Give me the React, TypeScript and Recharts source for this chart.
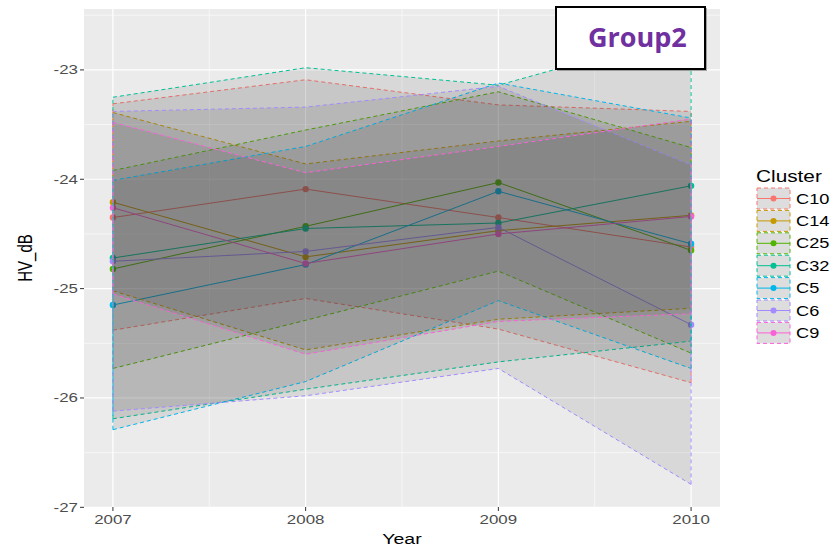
import React from 'react';
import {
  ComposedChart,
  Line,
  Area,
  Scatter,
  XAxis,
  YAxis,
  CartesianGrid,
  ReferenceLine,
  Label,
} from 'recharts';

// ---------- data ----------
const YEARS = [2007, 2008, 2009, 2010];
const CLUSTERS = ['C10', 'C14', 'C25', 'C32', 'C5', 'C6', 'C9'];
const COLORS = ['#F8766D', '#C49A00', '#53B400', '#00C094', '#00B6EB', '#A58AFF', '#FB61D7'];

const C10_MEAN = [-24.35, -24.09, -24.35, -24.62];
const C10_LOW = [-25.38, -25.09, -25.37, -25.86];
const C10_HIGH = [-23.31, -23.09, -23.32, -23.38];

const C14_MEAN = [-24.21, -24.71, -24.47, -24.33];
const C14_LOW = [-25.02, -25.56, -25.28, -25.18];
const C14_HIGH = [-23.39, -23.86, -23.65, -23.47];

const C25_MEAN = [-24.82, -24.43, -24.03, -24.65];
const C25_LOW = [-25.73, -25.29, -24.84, -25.59];
const C25_HIGH = [-23.92, -23.55, -23.2, -23.71];

const C32_MEAN = [-24.72, -24.45, -24.4, -24.06];
const C32_LOW = [-26.19, -25.92, -25.67, -25.48];
const C32_HIGH = [-23.25, -22.98, -23.14, -22.65];

const C5_MEAN = [-25.15, -24.78, -24.11, -24.59];
const C5_LOW = [-26.29, -25.85, -25.11, -25.73];
const C5_HIGH = [-24.01, -23.7, -23.12, -23.44];

const C6_MEAN = [-24.75, -24.66, -24.44, -25.33];
const C6_LOW = [-26.12, -25.98, -25.73, -26.79];
const C6_HIGH = [-23.38, -23.34, -23.15, -23.87];

const C9_MEAN = [-24.26, -24.77, -24.5, -24.34];
const C9_LOW = [-25.05, -25.6, -25.3, -25.23];
const C9_HIGH = [-23.48, -23.94, -23.7, -23.45];

const Y_TICKS = [-27, -26, -25, -24, -23];
const Y_MINOR = [-26.5, -25.5, -24.5, -23.5, -22.5];
const X_MINOR = [2007.5, 2008.5, 2009.5];

const TITLE = 'Group2';
const LEGEND_TITLE = 'Cluster';
const X_TITLE = 'Year';
const Y_TITLE = 'HV_dB';

// ---------- assemble ----------
const SERIES: Record<string, { mean: number[]; low: number[]; high: number[] }> = {
  C10: { mean: C10_MEAN, low: C10_LOW, high: C10_HIGH },
  C14: { mean: C14_MEAN, low: C14_LOW, high: C14_HIGH },
  C25: { mean: C25_MEAN, low: C25_LOW, high: C25_HIGH },
  C32: { mean: C32_MEAN, low: C32_LOW, high: C32_HIGH },
  C5: { mean: C5_MEAN, low: C5_LOW, high: C5_HIGH },
  C6: { mean: C6_MEAN, low: C6_LOW, high: C6_HIGH },
  C9: { mean: C9_MEAN, low: C9_LOW, high: C9_HIGH },
};

const rows = YEARS.map((year, i) => {
  const r: any = { year };
  CLUSTERS.forEach((c) => {
    r[c] = SERIES[c].mean[i];
    r[c + '_band'] = [SERIES[c].low[i], SERIES[c].high[i]];
  });
  return r;
});

const allLow = CLUSTERS.flatMap((c) => SERIES[c].low);
const allHigh = CLUSTERS.flatMap((c) => SERIES[c].high);
const yMin = Math.min(...allLow);
const yMax = Math.max(...allHigh);
const yPad = (yMax - yMin) * 0.05;
const Y_DOMAIN = [yMin - yPad, yMax + yPad];
const xPad = (YEARS[YEARS.length - 1] - YEARS[0]) * 0.05;
const X_DOMAIN = [YEARS[0] - xPad, YEARS[YEARS.length - 1] + xPad];

// ---------- styles ----------
const FONT = '"Liberation Sans", Arial, sans-serif';
const SX = 1.3;

const YTick = (props: any) => {
  const { x, y, payload } = props;
  return (
    <text
      transform={`translate(${x},${y}) scale(${SX},1)`}
      x={0}
      y={4.5}
      textAnchor="end"
      fontSize={13}
      fill="#4D4D4D"
      fontFamily={FONT}
    >
      {payload.value}
    </text>
  );
};

const XTick = (props: any) => {
  const { x, y, payload } = props;
  return (
    <text
      transform={`translate(${x},${y}) scale(${SX},1)`}
      x={0}
      y={11}
      textAnchor="middle"
      fontSize={13}
      fill="#4D4D4D"
      fontFamily={FONT}
    >
      {payload.value}
    </text>
  );
};

const LEGEND_X = 757;
const LEGEND_Y = 188;
const KEY_W = 33;
const KEY_H = 21;
const KEY_STEP = 22.4;

export default function App() {
  return (
    <div style={{ position: 'absolute', left: 0, top: 0, width: 840, height: 552, background: '#fff' }}>
      <ComposedChart width={840} height={552} data={rows} margin={{ top: 9, right: 120, bottom: 0, left: 0 }}>
        <CartesianGrid
          fill="#EBEBEB"
          stroke="#FFFFFF"
          strokeWidth={0.6}
          horizontalValues={Y_MINOR}
          verticalValues={X_MINOR}
        />
        <CartesianGrid
          stroke="#FFFFFF"
          strokeWidth={1.2}
          horizontalValues={Y_TICKS}
          verticalValues={YEARS}
        />
        <XAxis
          dataKey="year"
          type="number"
          domain={X_DOMAIN}
          ticks={YEARS}
          allowDataOverflow
          height={45}
          axisLine={false}
          tickSize={4}
          tickLine={{ stroke: '#333333' }}
          tick={<XTick />}
          tickMargin={2}
        >
          <Label
            content={(p: any) => {
              const vb = p.viewBox;
              return (
                <text
                  transform={`translate(${vb.x + vb.width / 2},${vb.y + 37}) scale(${SX},1)`}
                  x={0}
                  y={0}
                  textAnchor="middle"
                  fontSize={15}
                  fill="#000"
                  fontFamily={FONT}
                >
                  {X_TITLE}
                </text>
              );
            }}
          />
        </XAxis>
        <YAxis
          type="number"
          domain={Y_DOMAIN}
          ticks={Y_TICKS}
          allowDataOverflow
          width={84}
          axisLine={false}
          tickSize={4}
          tickLine={{ stroke: '#333333' }}
          tick={<YTick />}
          tickMargin={2}
        >
          <Label
            content={(p: any) => {
              const vb = p.viewBox;
              const cx = 32;
              const cy = vb.y + vb.height / 2;
              return (
                <text
                  transform={`translate(${cx},${cy}) rotate(-90) scale(1,${SX})`}
                  x={0}
                  y={0}
                  textAnchor="middle"
                  fontSize={15}
                  fill="#000"
                  fontFamily={FONT}
                >
                  {Y_TITLE}
                </text>
              );
            }}
          />
        </YAxis>

        {CLUSTERS.map((c, i) => (
          <Line
            key={'l' + c}
            dataKey={c}
            type="linear"
            stroke={COLORS[i]}
            strokeWidth={1}
            dot={false}
            activeDot={false}
            isAnimationActive={false}
            zIndex={50}
          />
        ))}

        {CLUSTERS.map((c, i) => (
          <Scatter
            key={'s' + c}
            dataKey={c}
            fill={COLORS[i]}
            isAnimationActive={false}
            zIndex={60}
            shape={(p: any) => <circle cx={p.cx} cy={p.cy} r={3.2} fill={COLORS[i]} />}
          />
        ))}

        {CLUSTERS.map((c, i) => (
          <Area
            key={'a' + c}
            dataKey={c + '_band'}
            type="linear"
            stroke={COLORS[i]}
            strokeWidth={1}
            strokeDasharray="4 3"
            fill="#333333"
            fillOpacity={0.1}
            dot={false}
            activeDot={false}
            isAnimationActive={false}
          />
        ))}

        {CLUSTERS.flatMap((c, i) =>
          [0, YEARS.length - 1].map((k) => (
            <ReferenceLine
              key={'v' + c + k}
              segment={[
                { x: YEARS[k], y: SERIES[c].low[k] },
                { x: YEARS[k], y: SERIES[c].high[k] },
              ]}
              stroke={COLORS[i]}
              strokeWidth={1}
              strokeDasharray="4 3"
              ifOverflow="visible"
            />
          ))
        )}
      </ComposedChart>

      <svg
        width={840}
        height={552}
        style={{ position: 'absolute', left: 0, top: 0, pointerEvents: 'none' }}
      >
        {/* title box */}
        <rect x={557} y={8} width={150} height={63} fill="#555" opacity={0.5} />
        <rect x={556} y={7} width={149} height={62} fill="#FFFFFF" stroke="#000" strokeWidth={2} />
        <text x={588} y={47} fontSize={27} fontWeight="bold" fill="#7030A0" fontFamily='"Open Sans", sans-serif'>
          {TITLE}
        </text>

        {/* legend */}
        <text
          transform={`translate(756,182) scale(${SX},1)`}
          x={0}
          y={0}
          fontSize={16}
          fill="#000"
          fontFamily={FONT}
        >
          {LEGEND_TITLE}
        </text>
        {CLUSTERS.map((c, i) => {
          const y0 = LEGEND_Y + i * KEY_STEP;
          const cy = y0 + KEY_H / 2;
          return (
            <g key={'lg' + c}>
              <rect
                x={LEGEND_X}
                y={y0}
                width={KEY_W}
                height={KEY_H}
                fill="#DDDDDD"
                stroke={COLORS[i]}
                strokeWidth={1}
                strokeDasharray="4 3"
              />
              <line x1={LEGEND_X} x2={LEGEND_X + KEY_W} y1={cy} y2={cy} stroke={COLORS[i]} strokeWidth={1} />
              <circle cx={LEGEND_X + KEY_W / 2} cy={cy} r={3} fill={COLORS[i]} />
              <text
                transform={`translate(796,${cy + 5}) scale(${SX},1)`}
                x={0}
                y={0}
                fontSize={14}
                fill="#000"
                fontFamily={FONT}
              >
                {c}
              </text>
            </g>
          );
        })}
      </svg>
    </div>
  );
}
